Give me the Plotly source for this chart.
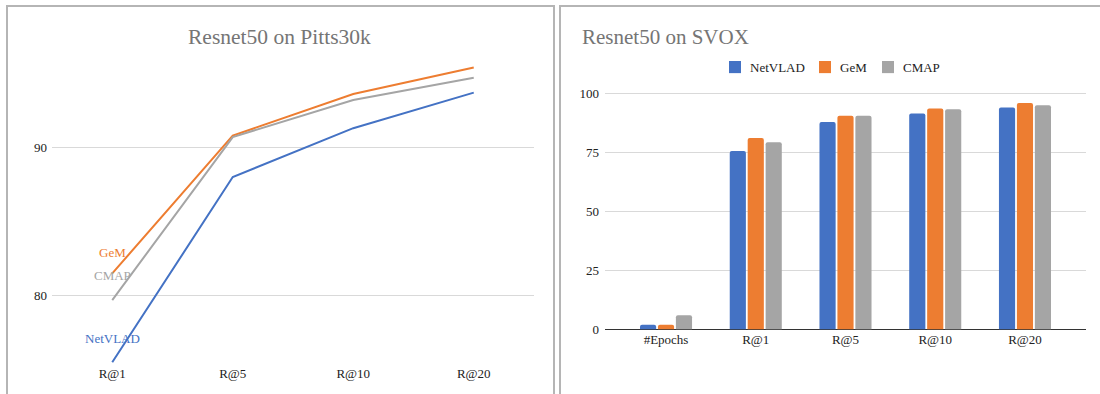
import plotly.graph_objects as go

# ---------- data ----------
pitts_cats = ["R@1", "R@5", "R@10", "R@20"]
pitts_netvlad = [75.5, 88.0, 91.3, 93.7]
pitts_gem = [81.5, 90.8, 93.6, 95.4]
pitts_cmap = [79.7, 90.7, 93.2, 94.7]

svox_cats = ["#Epochs", "R@1", "R@5", "R@10", "R@20"]
svox_netvlad = [2, 75.6, 87.8, 91.4, 94.0]
svox_gem = [2, 81.1, 90.5, 93.6, 95.9]
svox_cmap = [6, 79.3, 90.5, 93.2, 94.9]

series_names = ["NetVLAD", "GeM", "CMAP"]
colors = {"NetVLAD": "#4472C4", "GeM": "#ED7D31", "CMAP": "#A5A5A5"}

FONT = "Liberation Serif, Times New Roman, serif"

# page size and the vertical mapping observed between figure pixels and the photo
W, H = 1100, 405
V_OFF, V_SCALE = 5.5, 0.959

def px_x(p):
    return p / W

def fy(p):
    """target photo y (px) -> figure y (px)"""
    return (p - V_OFF) / V_SCALE

def px_y(p):
    return 1 - fy(p) / H

fig = go.Figure()

# ---------- left: line chart ----------
for name, vals in zip(series_names, [pitts_netvlad, pitts_gem, pitts_cmap]):
    fig.add_trace(go.Scatter(
        x=pitts_cats, y=vals, mode="lines", name=name,
        line=dict(color=colors[name], width=2),
        xaxis="x", yaxis="y", showlegend=False, hoverinfo="skip"))

label_shift = {"NetVLAD": 23, "GeM": 20, "CMAP": 24}
for name, vals in zip(series_names, [pitts_netvlad, pitts_gem, pitts_cmap]):
    fig.add_annotation(x=pitts_cats[0], y=vals[0], xref="x", yref="y",
                       text=name, showarrow=False, yshift=label_shift[name] / V_SCALE,
                       font=dict(family=FONT, size=13, color=colors[name]))

# ---------- right: bar chart ----------
for name, vals in zip(series_names, [svox_netvlad, svox_gem, svox_cmap]):
    fig.add_trace(go.Bar(
        x=svox_cats, y=vals, name=name, marker=dict(color=colors[name], line=dict(width=0)),
        xaxis="x2", yaxis="y2", hoverinfo="skip", showlegend=False))

# legend (square + text)
legend_left = {"NetVLAD": 729, "GeM": 819, "CMAP": 882}
for name in series_names:
    x0 = legend_left[name]
    fig.add_shape(type="rect", xref="paper", yref="paper",
                  x0=px_x(x0), x1=px_x(x0 + 12), y0=px_y(73), y1=px_y(61),
                  line=dict(width=0), fillcolor=colors[name])
    fig.add_annotation(x=px_x(x0 + 19), y=px_y(67), xref="paper", yref="paper",
                       text=name, showarrow=False, xanchor="left", yanchor="middle",
                       font=dict(family=FONT, size=13, color="#222222"))

# plot areas (target photo pixels)
lx0, lx1 = 52, 534
ly_top, ly_bot = 60, 361
rx0, rx1 = 605, 1086
ry0, ry100 = 327, 93
ry_top = ry0 - (ry0 - ry100) * 1.01

fig.update_layout(
    width=W, height=H,
    margin=dict(l=0, r=0, t=0, b=0),
    paper_bgcolor="white", plot_bgcolor="white",
    font=dict(family=FONT, size=13, color="#222222"),
    barmode="group", bargap=0.4, bargroupgap=0.1, barcornerradius=2,
    showlegend=False,
    xaxis=dict(domain=[px_x(lx0), px_x(lx1)], anchor="y", type="category",
               range=[-0.5, 3.5], showgrid=False, showline=False, zeroline=False,
               ticks="", tickfont=dict(size=13, color="#222222", family=FONT),
               ticklabelstandoff=0),
    yaxis=dict(domain=[px_y(ly_bot), px_y(ly_top)], anchor="x",
               range=[75.4, 95.9], dtick=10, tick0=0,
               showgrid=True, gridcolor="#d9d9d9", gridwidth=1, zeroline=False,
               showline=False, ticks="", tickfont=dict(size=13, color="#222222", family=FONT),
               ticklabelstandoff=4),
    xaxis2=dict(domain=[px_x(rx0), px_x(rx1)], anchor="y2", type="category",
                range=[-0.68, 4.68], showgrid=False, showline=False, zeroline=False,
                ticks="", tickfont=dict(size=13, color="#222222", family=FONT),
                ticklabelstandoff=1),
    yaxis2=dict(domain=[px_y(ry0), px_y(ry_top)], anchor="x2",
                range=[0, 101], tickvals=[0, 25, 50, 75, 100],
                showgrid=True, gridcolor="#d9d9d9", gridwidth=1,
                zeroline=True, zerolinecolor="#333333", zerolinewidth=1,
                showline=False, ticks="", tickfont=dict(size=13, color="#222222", family=FONT),
                ticklabelstandoff=5),
)

# titles
fig.add_annotation(x=px_x(280), y=px_y(37), xref="paper", yref="paper",
                   text="Resnet50 on Pitts30k", showarrow=False, xanchor="center", yanchor="middle",
                   font=dict(family=FONT, size=21.5, color="#757575"))
fig.add_annotation(x=px_x(580), y=px_y(37), xref="paper", yref="paper",
                   text="Resnet50 on SVOX", showarrow=False, xanchor="left", yanchor="middle",
                   font=dict(family=FONT, size=21, color="#757575"))

# panel borders (open at the bottom)
def border_path(x0, x1, top):
    return (f"M {px_x(x0)} 0 L {px_x(x0)} {px_y(top)} "
            f"L {px_x(x1)} {px_y(top)} L {px_x(x1)} 0")

fig.add_shape(type="path", xref="paper", yref="paper", path=border_path(7, 554, 6.5),
              line=dict(color="#b5b5b5", width=2), layer="above")
fig.add_shape(type="path", xref="paper", yref="paper", path=border_path(560, 1110, 6.5),
              line=dict(color="#b5b5b5", width=2), layer="above")

fig.write_html("out.html",
               config={"displayModeBar": False, "staticPlot": True},
               post_script="document.body.style.margin='0';")
